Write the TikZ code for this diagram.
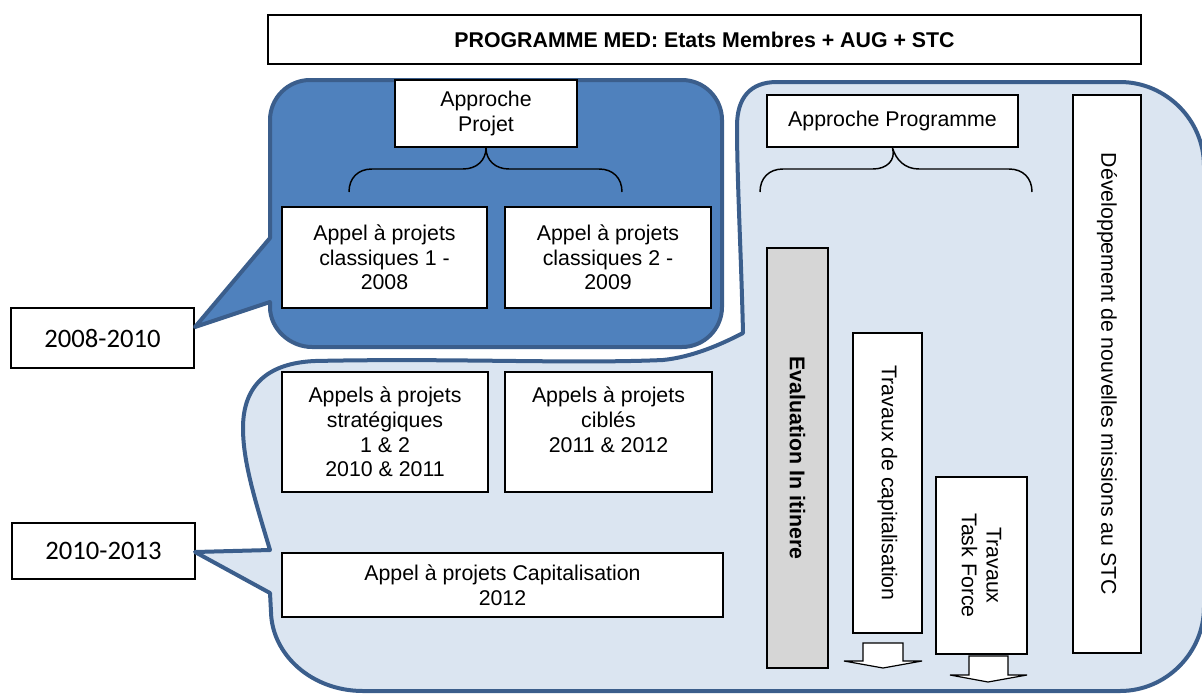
\documentclass[tikz,border=0pt]{standalone}
\usepackage{fontspec}
\setmainfont{Liberation Sans}
\newfontfamily\datefont{Carlito}
\definecolor{calloutline}{HTML}{3B5E8C}
\definecolor{darkfill}{HTML}{4F81BD}
\definecolor{lightfill}{HTML}{DBE5F1}
\definecolor{evalgray}{HTML}{D6D6D6}
\tikzset{
  % box given by its corners (x1,y1) (x2,y2) in picture units
  spot/.style n args={4}{at={({(#1+#3)/2},{(#2+#4)/2})},
    minimum width={(#3-#1)*0.75pt}, minimum height={(#4-#2)*0.75pt}},
  txtbox/.style={draw=black, line width=1.4pt, fill=white, inner sep=0pt, align=center,
                 font=\fontsize{16}{18.5}\selectfont},
  datebox/.style={draw=black, line width=0.9pt, fill=white, inner sep=0pt,
                  font=\datefont\fontsize{20}{24}\selectfont},
  callout/.style={draw=calloutline, line width=3pt, line join=round},
  bracket/.style={draw=black, line width=1.1pt},
  blockarrow/.style={draw=black, line width=0.9pt, fill=white},
  vtext/.style={rotate=-90, align=center, font=\fontsize{16}{18.5}\selectfont},
}
\begin{document}
\begin{tikzpicture}[x=0.75pt, y=-0.75pt]
\useasboundingbox (0,0) rectangle (1202,693);
\clip (0,0) rectangle (1202,693);

% period labels
\node[datebox, spot={11}{308}{194}{368}] (p1) {2008-2010};
\node[datebox, spot={12}{523}{195}{579}] (p2) {2010-2013};

% light callout: programme approach (2010-2013)
\path[callout, fill=lightfill]
  (195,552) -- (270,550)
  .. controls (255,500) and (243,462) .. (243,428)
  .. controls (243,385) and (268,363) .. (315,361)
  .. controls (450,358) and (570,364) .. (663,360)
  .. controls (692,357) and (720,345) .. (743,333)
  .. controls (741,250) and (737,180) .. (737,126)
  .. controls (737,98) and (750,82) .. (777,82)
  -- (1120,82)
  .. controls (1166,82) and (1204,120) .. (1204,166)
  -- (1204,607)
  .. controls (1204,653) and (1166,691) .. (1120,691)
  -- (363,691)
  .. controls (312,691) and (272,655) .. (271,612)
  -- (270,593) -- cycle;

% dark callout: project approach (2008-2010)
\path[callout, fill=darkfill]
  (270,238) -- (270,120)
  .. controls (270,98) and (288,80) .. (310,80)
  -- (682,80)
  .. controls (704,80) and (722,98) .. (722,120)
  -- (722,307)
  .. controls (722,329) and (704,347) .. (682,347)
  -- (312,347)
  .. controls (290,347) and (270,329) .. (270,307)
  -- (270,302) -- (195,327) -- cycle;

% title
\node[txtbox, spot={268}{15}{1141}{64}, font=\bfseries\fontsize{16}{18.5}\selectfont] (title)
  {PROGRAMME MED: Etats Membres + AUG + STC};

% project approach
\node[txtbox, spot={395}{80}{577}{147}] (projet) {Approche\\Projet};
\draw[bracket] (349,192) .. controls (349,178) and (358,169) .. (372,169)
  -- (463,169) .. controls (477,169) and (486,160) .. (projet.south)
  .. controls (486,160) and (495,169) .. (509,169)
  -- (599,169) .. controls (613,169) and (622,178) .. (622,192);
\node[txtbox, spot={282}{207}{487}{308}] (cl1) {Appel à projets\\classiques 1 -\\2008};
\node[txtbox, spot={505}{207}{711}{308}] (cl2) {Appel à projets\\classiques 2 -\\2009};

% 2010-2013 calls
\node[txtbox, spot={282}{372}{488}{492}] (strat) {Appels à projets\\stratégiques\\1 \& 2\\2010 \& 2011};
\node[txtbox, spot={505}{372}{712}{492}] (cibles) {Appels à projets\\ciblés\\2011 \& 2012\\\mbox{}};
\node[txtbox, spot={282}{553}{723}{617}] (capi) {Appel à projets Capitalisation\\2012};

% programme approach
\node[txtbox, spot={767}{95}{1018}{147}] (prog) {Approche Programme};
\draw[bracket] (760,192) .. controls (760,178) and (769,169) .. (783,169)
  -- (873,169) .. controls (887,169) and (896,160) .. (prog.south)
  .. controls (896,160) and (905,169) .. (919,169)
  -- (1009,169) .. controls (1023,169) and (1032,178) .. (1032,192);

\node[txtbox, fill=evalgray, spot={767}{248}{828}{668}] (eval) {};
\node[vtext, font=\bfseries\fontsize{16}{18.5}\selectfont] (evaltxt) at (eval.center) {Evaluation In itinere};

\node[txtbox, spot={853}{333}{922}{633}] (trcap) {};
\node[vtext] (trcaptxt) at (trcap.center) {Travaux de capitalisation};

\node[txtbox, spot={936}{477}{1027}{654}] (tf) {};
\node[vtext] (tftxt) at (tf.center) {Travaux\\Task Force};

\node[txtbox, spot={1073}{95}{1141}{653}] (dev) {};
\node[vtext] (devtxt) at (dev.center) {Développement de nouvelles missions au STC};

% outgoing block arrows
\path[blockarrow] (863,643) -- (903,643) -- (903,661) -- (922,661) -- (883,668)
  -- (844,661) -- (863,661) -- cycle;
\path[blockarrow] (969,656) -- (1008,656) -- (1008,675) -- (1027,675) -- (988,682)
  -- (950,675) -- (969,675) -- cycle;
\end{tikzpicture}
\end{document}
